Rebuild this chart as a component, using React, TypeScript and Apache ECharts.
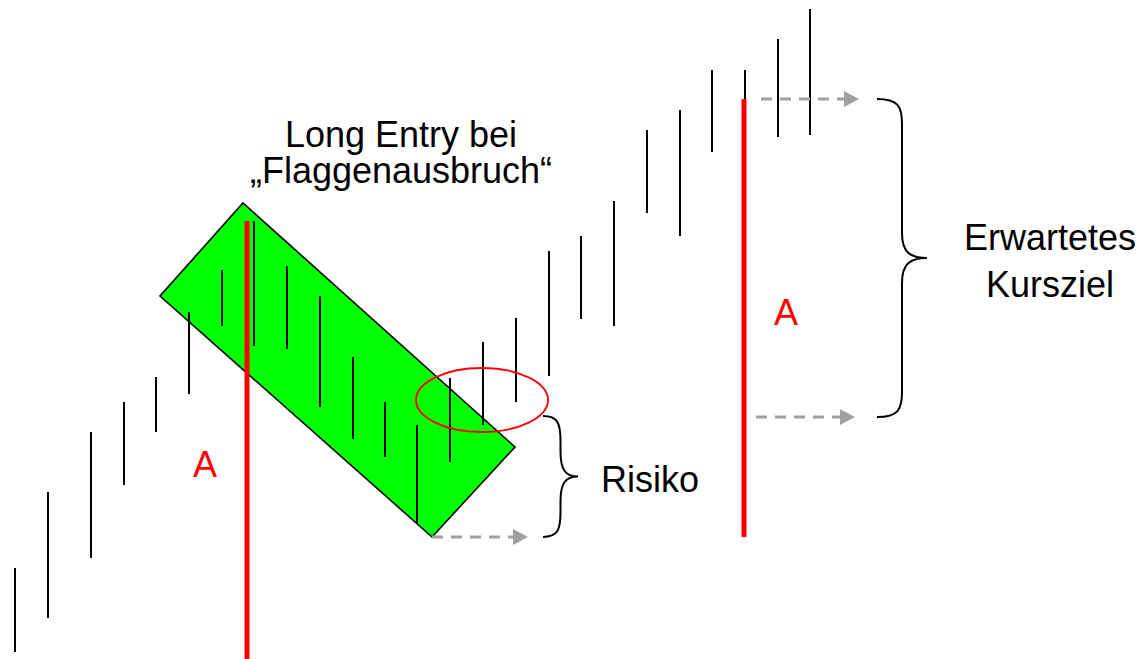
import React, { useEffect, useRef } from "react";
import * as echarts from "echarts";

// Time positions of the price bars (x) and their low / high prices (y, upward)
const barX = [15, 48, 91, 124, 156, 189, 222, 254, 287, 320, 353, 385, 417, 450, 483, 516, 549, 581, 614, 647, 680, 712, 745, 778, 810];
const barLow = [7, 41, 101, 174, 227, 265, 333, 313, 310, 252, 220, 202, 136, 197, 234, 257, 283, 340, 333, 446, 423, 507, 484, 522, 524];
const barHigh = [91, 167, 227, 257, 282, 347, 389, 438, 393, 363, 302, 257, 234, 281, 317, 341, 408, 423, 458, 529, 549, 589, 589, 620, 650];

// Flag (channel) corners
const flagX = [243, 515, 432, 160];
const flagY = [456, 212, 122, 363];

// Red "A" measure lines: [x, from, to]
const measureLines = [
  [247, -10, 438],
  [744, 122, 560],
];

// Breakout ellipse: [cx, cy, rx, ry]
const breakout = [[482, 259, 66, 32]];

// Dashed projection arrows: [xStart, xEnd, y]
const arrows = [
  [432, 528, 122],
  [761, 859, 560],
  [756, 855, 242],
];

// Braces: [xStart, xTip, yTop, yBottom]
const braces = [
  [543, 578, 243, 122],
  [877, 927, 560, 242],
];

const FONT = '"Liberation Sans", Arial, Helvetica, sans-serif';

export default function App() {
  const ref = useRef<HTMLDivElement>(null);

  useEffect(() => {
    if (!ref.current) return;
    const chart = echarts.init(ref.current, undefined, { renderer: "svg" });

    const textEl = (text: string, x: number, y: number, color: string, align: string, lineHeight = 36) => ({
      type: "text",
      x,
      y,
      z: 100,
      style: {
        text,
        fill: color,
        fontSize: 36,
        lineHeight,
        fontFamily: FONT,
        align,
        textAlign: align,
        verticalAlign: "middle",
        textVerticalAlign: "middle",
      },
    });

    const option: any = {
      animation: false,
      grid: { left: 0, right: 0, top: 0, bottom: 0 },
      xAxis: { type: "value", min: 0, max: 1144, show: false },
      yAxis: { type: "value", min: 0, max: 659, show: false },
      series: [
        {
          type: "custom",
          z: 1,
          clip: false,
          data: [[flagX[0], flagY[0]]],
          renderItem: (params: any, api: any) => {
            const points = flagX.map((x, i) => api.coord([x, flagY[i]]));
            return {
              type: "polygon",
              shape: { points },
              style: { fill: "#00ff00", stroke: "#000", lineWidth: 1.6 },
            };
          },
        },
        {
          type: "custom",
          z: 2,
          clip: false,
          data: barX.map((x, i) => [x, barLow[i], barHigh[i]]),
          renderItem: (params: any, api: any) => {
            const a = api.coord([api.value(0), api.value(1)]);
            const b = api.coord([api.value(0), api.value(2)]);
            return {
              type: "line",
              shape: { x1: a[0], y1: a[1], x2: b[0], y2: b[1] },
              style: { stroke: "#000", lineWidth: 2 },
            };
          },
        },
        {
          type: "custom",
          z: 3,
          clip: false,
          data: measureLines,
          renderItem: (params: any, api: any) => {
            const a = api.coord([api.value(0), api.value(1)]);
            const b = api.coord([api.value(0), api.value(2)]);
            return {
              type: "line",
              shape: { x1: a[0], y1: a[1], x2: b[0], y2: b[1] },
              style: { stroke: "#ff0000", lineWidth: 5 },
            };
          },
        },
        {
          type: "custom",
          z: 4,
          clip: false,
          data: breakout,
          renderItem: (params: any, api: any) => {
            const c = api.coord([api.value(0), api.value(1)]);
            const s = api.size([api.value(2), api.value(3)]);
            return {
              type: "ellipse",
              shape: { cx: c[0], cy: c[1], rx: s[0], ry: s[1] },
              style: { fill: "none", stroke: "#ff0000", lineWidth: 1.8 },
            };
          },
        },
        {
          type: "custom",
          z: 4,
          clip: false,
          data: arrows,
          renderItem: (params: any, api: any) => {
            const a = api.coord([api.value(0), api.value(2)]);
            const b = api.coord([api.value(1), api.value(2)]);
            const head = 15;
            const half = 8;
            return {
              type: "group",
              children: [
                {
                  type: "line",
                  shape: { x1: a[0], y1: a[1], x2: b[0] - head, y2: b[1] },
                  style: { stroke: "#a0a0a0", lineWidth: 3, lineDash: [11, 8] },
                },
                {
                  type: "polygon",
                  shape: {
                    points: [
                      [b[0] - head, b[1] - half],
                      [b[0], b[1]],
                      [b[0] - head, b[1] + half],
                    ],
                  },
                  style: { fill: "#a0a0a0" },
                },
              ],
            };
          },
        },
        {
          type: "custom",
          z: 4,
          clip: false,
          data: braces,
          renderItem: (params: any, api: any) => {
            const top = api.coord([api.value(0), api.value(2)]);
            const bot = api.coord([api.value(0), api.value(3)]);
            const tipPt = api.coord([api.value(1), (api.value(2) + api.value(3)) / 2]);
            const x0 = top[0];
            const xt = tipPt[0];
            const xm = x0 + (xt - x0) * 0.5;
            const yT = top[1];
            const yB = bot[1];
            const yM = tipPt[1];
            const r = Math.min(25, (yB - yT) / 4.5);
            const d = [
              `M ${x0} ${yT}`,
              `C ${x0 + (xm - x0) * 0.85} ${yT} ${xm} ${yT + r * 0.3} ${xm} ${yT + r}`,
              `L ${xm} ${yM - r}`,
              `C ${xm} ${yM - r * 0.25} ${xm + (xt - xm) * 0.3} ${yM} ${xt} ${yM}`,
              `C ${xm + (xt - xm) * 0.3} ${yM} ${xm} ${yM + r * 0.25} ${xm} ${yM + r}`,
              `L ${xm} ${yB - r}`,
              `C ${xm} ${yB - r * 0.3} ${x0 + (xm - x0) * 0.85} ${yB} ${x0} ${yB}`,
            ].join(" ");
            return {
              type: "path",
              shape: { pathData: d },
              style: { fill: "none", stroke: "#000", lineWidth: 2 },
            };
          },
        },
      ],
      graphic: [
        textEl("Long Entry bei\n\u201EFlaggenausbruch\u201C", 401, 152, "#000", "center", 36),
        textEl("A", 205, 464.5, "#ff0000", "center"),
        textEl("A", 786, 312.5, "#ff0000", "center"),
        textEl("Risiko", 601, 479.5, "#000", "left"),
        textEl("Erwartetes\nKursziel", 1050, 261, "#000", "center", 47),
      ],
    };

    chart.setOption(option);
    return () => chart.dispose();
  }, []);

  return (
    <div
      ref={ref}
      style={{ position: "absolute", left: 0, top: 0, width: 1144, height: 659, background: "#fff" }}
    />
  );
}
